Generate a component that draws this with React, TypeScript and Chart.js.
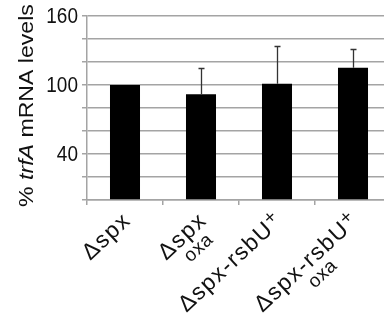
import React, { useEffect, useRef } from "react";
import { Chart, registerables } from "chart.js";

Chart.register(...registerables);

const categories = ["Δspx", "Δspx", "Δspx-rsbU", "Δspx-rsbU"];
const superscripts = ["", "", "+", "+"];
const subLines = ["", "oxa", "", "oxa"];
const values = [100, 92, 101, 115];
const errors = [0, 23, 33, 16];
const yTicks = [0, 20, 40, 60, 80, 100, 120, 140, 160];
const yTickLabels = [40, 100, 160];

const FONT = "'Liberation Sans', Arial, sans-serif";
const GRID = "#a4a4a4";
const TEXT = "#111";

const errorBarPlugin = {
  id: "errorBars",
  afterDatasetsDraw(chart: any) {
    const ctx = chart.ctx;
    const xs = chart.scales.x;
    const ys = chart.scales.y;
    ctx.save();
    ctx.strokeStyle = "#333";
    ctx.lineWidth = 1.3;
    values.forEach((v, i) => {
      if (!errors[i]) return;
      const x = Math.round(xs.getPixelForValue(i)) + 0.5;
      const y0 = ys.getPixelForValue(v);
      const y1 = Math.round(ys.getPixelForValue(v + errors[i])) + 0.5;
      ctx.beginPath();
      ctx.moveTo(x, y0);
      ctx.lineTo(x, y1);
      ctx.moveTo(x - 3, y1);
      ctx.lineTo(x + 3, y1);
      ctx.stroke();
    });
    ctx.restore();
  },
};

const labelPlugin = {
  id: "customLabels",
  afterDraw(chart: any) {
    const ctx = chart.ctx;
    const xs = chart.scales.x;
    const ys = chart.scales.y;
    const area = chart.chartArea;
    const ang = (-43 * Math.PI) / 180;
    ctx.save();
    ctx.fillStyle = TEXT;

    // y tick labels (slightly tall, as in the reference)
    ys.ticks.forEach((t: any) => {
      if (!yTickLabels.includes(t.value)) return;
      const y = ys.getPixelForValue(t.value);
      ctx.save();
      ctx.translate(area.left - 9, y);
      ctx.scale(1, 1.15);
      ctx.font = `19px ${FONT}`;
      ctx.textAlign = "right";
      ctx.textBaseline = "middle";
      ctx.fillText(String(t.value), 0, 1);
      ctx.restore();
    });

    // x category labels, rotated
    categories.forEach((cat, i) => {
      const cx = xs.getPixelForValue(i);
      ctx.save();
      ctx.translate(cx + 7, area.bottom + 22);
      ctx.rotate(ang);
      const mainFont = `23px ${FONT}`;
      const supFont = `19px ${FONT}`;
      const subFont = `19px ${FONT}`;
      (ctx as any).letterSpacing = "1.5px";
      ctx.font = mainFont;
      const wMain = ctx.measureText(cat).width;
      ctx.font = supFont;
      const wSup = superscripts[i] ? ctx.measureText(superscripts[i]).width : 0;
      const total = wMain + wSup;
      ctx.textBaseline = "alphabetic";
      ctx.textAlign = "left";
      ctx.font = mainFont;
      ctx.fillText(cat, -total, 0);
      if (superscripts[i]) {
        ctx.font = supFont;
        ctx.fillText(superscripts[i], -wSup, -7);
      }
      if (subLines[i]) {
        (ctx as any).letterSpacing = "0.5px";
        ctx.font = subFont;
        ctx.textAlign = "center";
        ctx.fillText(subLines[i], -total / 2 + 4, 18);
      }
      ctx.restore();
    });

    // y axis title
    ctx.save();
    ctx.translate(33, 105.5);
    ctx.scale(1, 1.1);
    ctx.rotate(-Math.PI / 2);
    const parts = [
      { t: "% ", f: `21px ${FONT}` },
      { t: "trfA", f: `italic 21px ${FONT}` },
      { t: " mRNA levels", f: `21px ${FONT}` },
    ];
    let tw = 0;
    parts.forEach((p) => {
      ctx.font = p.f;
      tw += ctx.measureText(p.t).width;
    });
    let x = -tw / 2;
    ctx.textAlign = "left";
    ctx.textBaseline = "alphabetic";
    parts.forEach((p) => {
      ctx.font = p.f;
      ctx.fillText(p.t, x, 0);
      x += ctx.measureText(p.t).width;
    });
    ctx.restore();
    ctx.restore();
  },
};

export default function App() {
  const ref = useRef<HTMLCanvasElement | null>(null);
  useEffect(() => {
    if (!ref.current) return;
    const chart = new Chart(ref.current, {
      type: "bar",
      data: {
        labels: categories,
        datasets: [
          {
            data: values,
            backgroundColor: "#000",
            borderWidth: 0,
            barPercentage: 0.395,
            categoryPercentage: 1,
          },
        ],
      },
      options: {
        animation: false,
        responsive: false,
        devicePixelRatio: 1,
        layout: { padding: { top: 16, right: 1, left: 0, bottom: 0 } },
        plugins: { legend: { display: false }, tooltip: { enabled: false } },
        scales: {
          x: {
            type: "category",
            offset: true,
            grid: {
              offset: true,
              drawOnChartArea: false,
              drawTicks: true,
              tickLength: 5,
              color: GRID,
              lineWidth: 1.5,
            },
            border: { color: GRID, width: 1.5 },
            ticks: { display: false },
            afterFit: (s: any) => {
              s.height = 122;
            },
          },
          y: {
            min: 0,
            max: 160,
            grid: { color: GRID, tickLength: 5, lineWidth: 1.5 },
            border: { color: GRID, width: 1.5 },
            ticks: { display: false },
            afterBuildTicks: (s: any) => {
              s.ticks = yTicks.map((v) => ({ value: v }));
            },
            afterFit: (s: any) => {
              s.width = 87;
            },
          },
        },
      },
      plugins: [errorBarPlugin, labelPlugin],
    });
    return () => chart.destroy();
  }, []);
  return (
    <div
      style={{
        position: "absolute",
        left: 0,
        top: 0,
        width: 384,
        height: 322,
        overflow: "hidden",
        background: "#fff",
      }}
    >
      <canvas ref={ref} width={392} height={322} style={{ display: "block" }} />
    </div>
  );
}
